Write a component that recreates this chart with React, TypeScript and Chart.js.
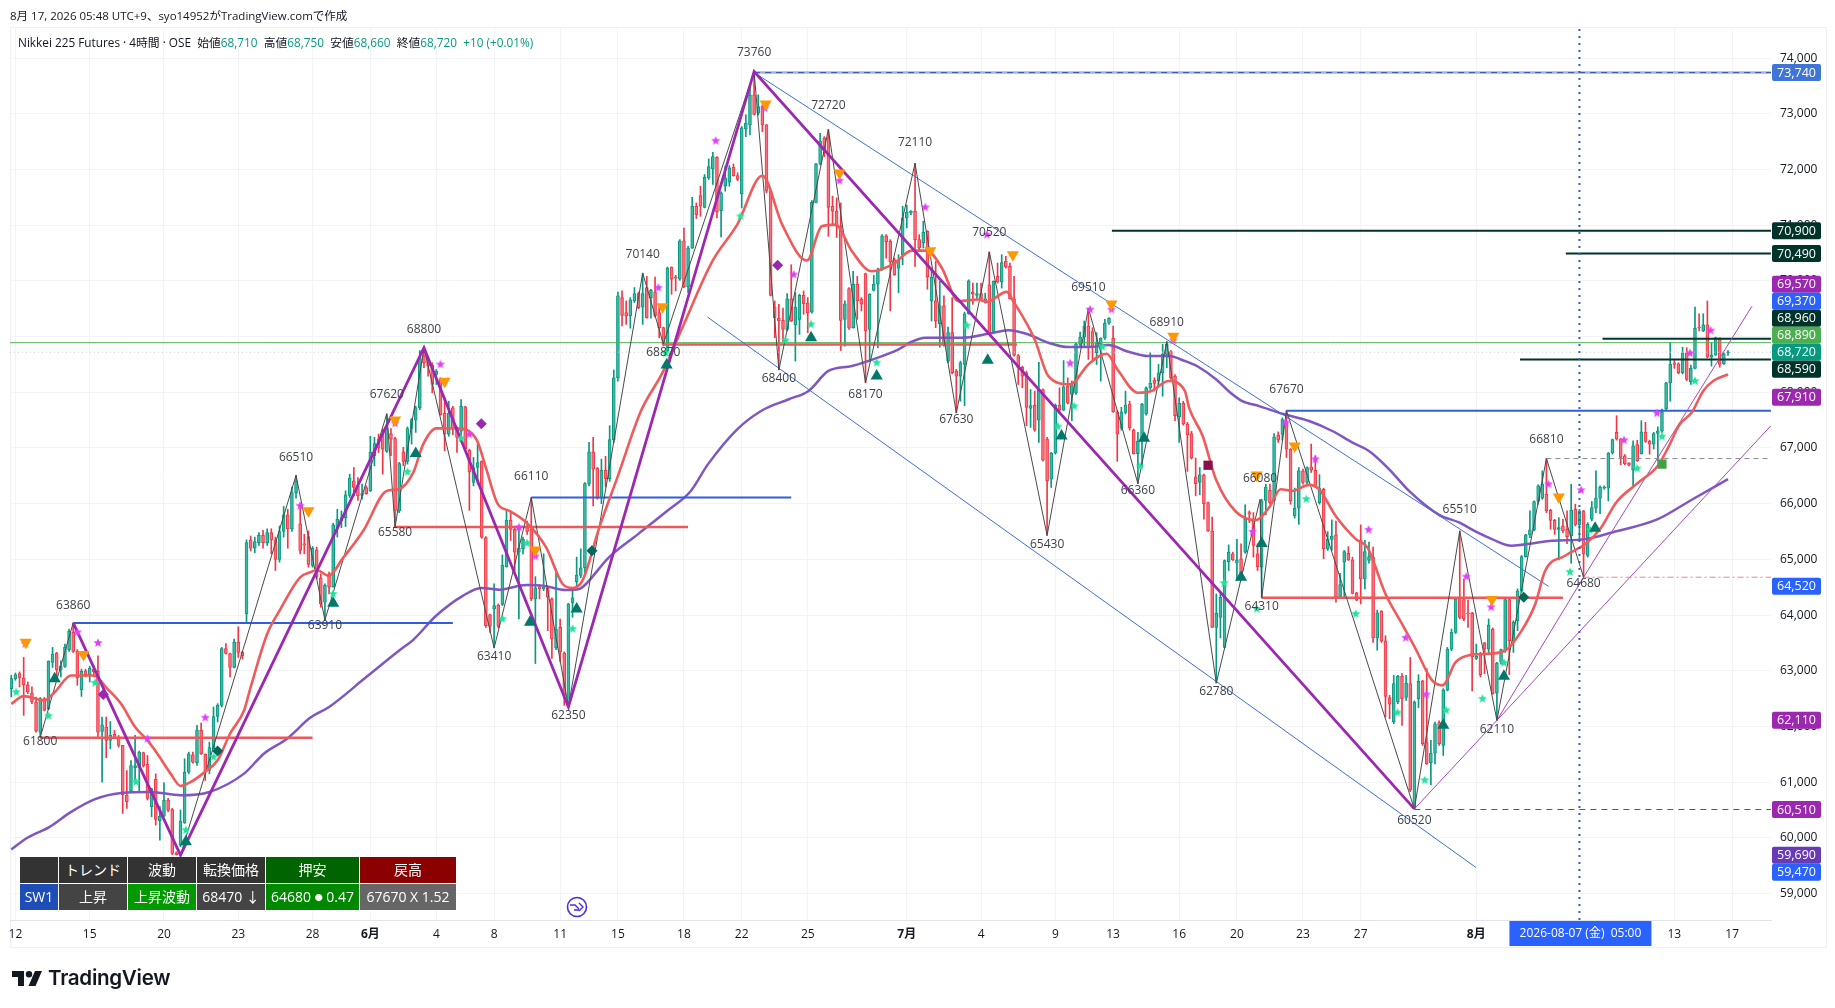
import React, { useEffect, useRef } from "react";
import { Chart, registerables } from "chart.js";

Chart.register(...registerables);

// ---------- candle rows: open, high, low, close (4-hour bars) ----------
const barsMay = [
[62680,62920,62530,62860],[62860,62960,62830,62930],[62950,62980,62710,62870],[62870,63240,62200,62750],[62750,62800,62590,62620],
[62600,62710,62410,62440],[62440,62530,61900,61920],[61900,62520,61800,62500],[62500,62520,62280,62290],[62320,63180,62300,63170],
[63150,63420,63060,63300],[63320,63330,62860,63020],[63020,63180,62890,63090],[63080,63480,63060,63420],[63380,63750,63350,63710],
[63690,63860,63330,63350],[63350,63380,62740,62870],[62660,63030,62540,62990],[63000,63030,62890,62930],[62920,63080,62800,63050],
[63030,63090,62890,62980],[62990,63270,61810,61900],[61910,62170,61000,62030],[61990,62170,61440,61750],[61750,62090,61600,61840],
[61860,61930,61780,61780],[61810,61840,61630,61660],[61660,61660,60440,60770],[60770,61210,60530,60650],[60840,61390,60820,61300],
[61260,61840,61000,61300],[61260,61560,60820,61540],[61530,61540,61270,61290],[61320,61480,60680,60710],[60560,60890,60380,60870],
[61050,61150,60230,60330],[60310,60560,59960,60390],[60390,60990,60380,60680],[60680,60710,60470,60500],[60510,60530,59700,59720],
[59730,59750,59690,59700],[59870,60500,59840,60300],[60270,61420,60260,61180],[61180,61540,61150,61510],[61490,61540,61340,61360],
[61350,62020,61300,61940],[61930,62060,61500,61510],[61500,61510,61030,61200],[61210,61720,61150,61620],[61600,62350,61600,62180],
[62180,62410,62080,62380],[62380,63420,62350,63400],[63400,63490,63300,63310],[63310,63320,62890,63060],[63060,63570,63050,63510],
[63510,63790,63240,63330],[63330,63350,63210,63270],[64020,65350,63850,65300],[65350,65420,65150,65200],[65200,65400,65120,65320],
[65300,65480,65250,65430],[65430,65520,65200,65300],[65300,65550,65250,65480],[65480,65550,65100,65350],[65350,65400,64800,65000],
[65000,65600,64950,65500],[65500,65950,65400,65800],[65800,65900,65200,65550],[65550,66300,65500,66200],[66200,66510,66100,66400],
[65640,65990,65100,65160],[65280,65450,65100,65260],[65410,65510,64860,64910],[64890,65230,64860,65200],[65170,65220,64650,64680],
[64670,64740,64140,64200],[64230,64560,63910,64540],[64740,64770,64380,64500],[64510,65650,64500,65620],[65570,65900,65400,65720],
[65690,65870,65570,65750],[65750,66230,65590,66160],[66150,66530,66110,66460],[66410,66650,66140,66290],[66320,66470,66060,66140],
[66150,66350,66080,66180],[66290,66320,66170,66180],
];
const barsJune = [
[66230,67210,66220,66920],[66860,67190,66680,67080],[67160,67250,66920,67000],[67260,67340,66530,66980],[66940,67600,66920,67350],
[67260,67350,66860,67160],[67170,67190,65590,65880],[65870,66740,65840,66720],[66930,67010,66680,66760],[66760,67380,66710,67350],
[67350,67530,67070,67510],[67500,67750,67280,67720],[67720,68750,67690,68620],[68650,68800,68440,68530],[68590,68620,68290,68470],
[68490,68530,67990,68140],[68320,68410,68140,68380],[68250,68260,67590,67600],[67620,67900,66950,67250],[67250,67840,67210,67620],
[67720,67750,67240,67340],[67350,67380,66920,67190],[67300,67870,67130,67750],[67740,67750,66960,66980],[66960,66980,65880,66570],
[66380,66830,66320,66650],[66650,67070,66350,66740],[66760,66770,65380,65400],[65390,65410,63780,63810],[64010,64020,63690,63800],
[64110,64560,63410,64170],[64180,64200,63770,63800],[64190,65080,64170,64900],[64870,65870,64860,65700],[65700,65870,65340,65540],
[65540,65570,64800,65130],[65130,65570,63930,65200],[65190,65400,65100,65360],[65570,65690,65450,65500],[65540,66110,64260,64290],
[64290,64690,63130,64490],[64510,64550,64290,64470],[64470,65100,64440,64500],[64490,64510,63720,64320],[64290,64310,63220,63570],
[63410,64830,63380,63750],[63780,63930,63160,63340],[63320,63340,62380,62560],[62380,64210,62350,64200],[64220,64440,63960,64310],
[64600,65040,64530,64720],[64710,65190,64670,64850],[64850,66380,64740,66360],[66350,67100,66320,66930],[66930,67190,65960,66620],
[66640,66650,66080,66100],[66100,66800,66000,66600],[66600,66850,66300,66450],[66450,67400,66400,67150],[67150,68400,67100,68260],
[68260,69800,68200,69730],[69700,69820,69190,69380],[69430,69640,69220,69370],[69370,69700,69150,69660],[69640,69880,69610,69770],
[69770,69800,69500,69520],[69530,70140,69220,69770],[69880,70080,69330,69340],[69700,69850,69330,69830],[69800,70070,69350,69370],
[69430,69580,68980,69160],[69160,69170,68830,68860],[68740,70250,68730,70230],[70250,70250,69760,70030],[70070,70100,69820,70050],
[70030,70740,70010,70720],[70720,70950,69880,69890],[69890,70620,69790,70590],[70590,71500,70580,71340],[71340,71400,71120,71190],
[71530,71700,71160,71340],[71320,71910,71310,71860],[71850,72190,71820,72050],[72010,72310,71730,72230],[72220,72230,71130,71240],
[71260,71600,70790,71580],[71700,72060,71610,71850],[71770,72070,71700,72030],[72040,72100,71880,71890],[71890,71940,71800,71820],
[71560,72770,71310,72750],[72730,72980,72590,72830],[72800,73460,72620,73330],[73340,73760,72980,72990],[73010,73340,72980,73130],
[73130,73160,72680,72800],[72800,72810,71580,71610],[71610,71620,69730,69740],[69530,69640,68980,69340],[69330,69580,68400,69280],
[69290,69510,68910,69130],[69130,69770,69100,69680],[69680,70290,69270,69280],[69210,69790,68560,69530],[69310,69760,69040,69740],
[69740,69820,69400,69590],[69600,69700,69070,69430],[69440,71440,69420,71410],[71410,72110,71400,72100],[72110,72650,72080,72510],
[72570,72590,72230,72340],[72570,72720,70800,71320],[71340,71520,71000,71250],[71250,71490,70780,70980],[70980,71400,68750,69290],
[69310,69640,68830,69590],[69860,69880,69130,69150],[69160,70170,69150,69940],[69940,70080,69310,69640],[69670,69700,69460,69580],
[70130,70140,68170,69100],[69130,69770,68560,69760],[69830,70100,69820,69940],[69940,70230,68800,70200],[70200,70830,70190,70810],
[70810,70830,70410,70700],[70710,70740,69460,70340],[70380,70410,70100,70110],[70230,70470,69790,70380],[70470,71340,70290,71130],
];
const barsJuly = [
[71130,71360,70950,71230],[71220,71260,71190,71250],[71250,72110,70260,70740],[70740,70830,70560,70590],[70680,71070,70590,70870],
[70890,70900,69850,70070],[69640,70230,69280,70070],[69640,70350,69160,69280],[69230,69990,68810,69550],[69550,69730,68830,68860],
[68560,69170,68530,69070],[69070,69700,68330,68350],[68380,68410,67630,68290],[68290,68560,67840,68530],[68500,69440,67760,69410],
[69410,70020,69400,70000],[69800,69960,69580,69760],[69740,69960,69670,69770],[69770,69960,69640,69670],[69650,69780,69600,69680],
[69930,70520,69040,69070],[69080,70000,69070,69990],[70080,70320,69960,69980],[69980,70470,69870,70330],[70350,70440,70230,70250],
[70260,70320,69670,69680],[69680,70080,68650,68660],[68660,68680,68140,68440],[68450,68470,68080,68290],[68350,68380,67400,67730],
[67710,68050,67370,67760],[67770,68020,67300,67320],[67500,68540,67100,68050],[68050,68060,66770,66780],[67160,67190,65430,66410],
[66440,66920,66290,66910],[66910,67790,66890,67770],[67770,68080,67640,67680],[67680,68570,67670,68100],[68110,68260,67790,67810],
[67960,68200,67490,68140],[67990,68890,67960,68870],[68860,69080,68830,68990],[68990,69280,68830,69190],[69190,69510,68590,68800],
[69090,69160,68560,68800],[68710,69070,68500,68890],[68870,68980,68200,68970],[68970,69310,68950,69240],[69240,69340,69220,69330],
[68970,69190,67640,67650],[67650,67670,66760,67250],[67360,67730,67320,67650],[67640,68020,67610,67770],[67790,67840,67320,67360],
[67320,67340,66890,66900],[66900,67280,66360,67130],[67130,67800,66650,67790],[67610,68100,67590,68080],[68080,68710,68050,68160],
[68220,68260,68020,68160],[68200,68500,68140,68350],[68350,68860,67930,68680],[68680,68910,68440,68860],[68730,68750,68230,68260],
[68290,68320,67490,67580],[67560,67900,67100,67800],[67800,67840,67410,67430],[67430,67460,66580,67240],[67260,67300,66800,66820],
[66480,66820,66140,66360],[66380,66650,66160,66520],[66520,66530,65720,66000],[66020,66030,65500,65510],[65510,65760,63780,63780],
[63780,64380,62780,64030],[63960,64410,63590,64320],[63420,64990,63410,64980],[64960,65260,64800,65130],[65100,65130,64980,64990],
[64930,65360,64620,64990],[65010,65280,64620,64740],[65130,65980,65110,65720],[65840,65870,65660,65810],[65690,65840,65040,65250],
[65100,65280,64800,64870],[64860,66080,64310,66050],[66060,66350,65800,66300],[66240,66350,65990,66020],[66060,67260,66050,67200],
[67230,67290,67100,67140],[67250,67540,67140,67510],[67470,67670,66830,66980],[66980,66990,65990,66050],[65780,66280,65740,65920],
[65920,66650,65630,66590],[66590,66620,66350,66380],[66380,66660,66360,66650],[66660,67070,66560,66600],[66600,66860,66290,66320],
[66020,66520,65990,66280],[66260,66280,65010,65190],[65190,65500,65160,65360],[65360,65710,65160,65420],[65440,65690,64230,64320],
[64320,64750,64310,64550],[64950,65160,64320,65140],[65110,65230,64980,64990],[64990,65040,64380,64390],[64400,64410,64260,64270],
[65350,65620,64200,64650],[64650,65340,64470,65140],[64980,65310,64930,65050],[65040,65220,63510,63590],[63590,64090,63370,64040],
[64070,64080,63510,63530],[63540,63630,62170,62540],[62520,62560,62140,62400],[62080,62920,62050,62770],[62440,62920,62410,62900],
[62900,62950,62020,62500],[62520,62920,62470,62780],[62770,63240,60830,60860],[60530,62460,60520,62440],[62500,62930,62340,62810],
[62820,62830,61660,61690],[61710,63040,61320,61330],[61350,61750,60950,61520],[61520,62080,61330,62050],[62070,62100,61660,61690],
[61660,62680,61480,62660],[62650,63420,62640,63390],[63390,63750,63360,63690],[63690,64320,63670,64290],[64300,65510,63930,63960],
[64280,64650,63900,63930],[64040,64270,63780,64020],[64030,64050,62640,63250],
];
const barsAugust = [
[63220,63480,63200,63260],[63290,63330,62890,62930],[63500,63510,62950,63390],[63390,63930,63300,63820],[63750,63770,62580,62590],
[62600,63150,62110,63140],[63150,63390,63120,63380],[63360,64290,63330,64280],[64280,64290,62930,63540],[63540,63900,63330,63870],
[63900,64470,63720,64430],[64430,65070,64410,65050],[65050,65450,65040,65440],[65440,65870,65390,65530],[65530,66050,65510,66040],
[66040,66340,65990,66320],[66100,66590,66080,66350],[66170,66810,65840,65870],[65880,65900,65540,65700],[65700,65720,65450,65540],
[65540,65750,64990,65570],[65600,65720,65480,65510],[65540,65870,65280,65410],[65420,66350,64930,65880],[65900,65990,65600,65630],
[65620,65900,65360,65870],[65870,65880,64680,65100],[65070,65660,65040,65630],[65720,66040,65690,65930],[65920,66590,65840,66100],
[66100,66320,65820,66300],[66280,66320,66260,66300],[66280,66920,66050,66910],[66910,67160,66890,67150],[67280,67580,67140,67160],
[67160,67170,66700,66830],[66860,66880,66700,66720],[66730,66740,66680,66690],[66600,67130,66300,67040],[67060,67140,66760,66770],
[66900,67490,66890,67290],[67280,67460,67100,67120],[67120,67140,66890,67070],[67070,67280,66980,67260],[67260,67380,66770,67310],
[67300,67700,67280,67650],[67700,68180,67680,68170],[68170,68890,67840,68500],[68530,68570,68430,68500],[68510,68530,68330,68350],
[68350,68810,68330,68710],[68710,68800,68210,68230],[68190,68490,68140,68430],[68430,69530,68420,69150],[69170,69410,69100,69160],
[69100,69410,69090,69210],[69210,69640,68620,68630],[68630,68890,68470,68670],[68670,68990,68660,68980],[68970,68980,68450,68500],
[68510,68710,68500,68690],[68710,68750,68660,68720],
];

// ---------- moving averages: bar number, price ----------
const fastAverage = [[0,62407],[3,62545],[8,62467],[10.5,62616],[14.5,62915],[20,62915],[23.3,62676],[26.6,62407],[30,61990],[33,61751],[35.4,61512],[38.6,61154],[41,60933],[43.5,61004],[46.7,61172],[50,61393],[53,61870],[56.4,62288],[58,62706],[62,63661],[65,64079],[70,64678],[72.4,64768],[74,64810],[76.8,64708],[80.5,65036],[85.3,65514],[91,66230],[93.8,66260],[97.4,66559],[99.8,67066],[103,67353],[107.8,67353],[112.7,67156],[115,66648],[117.9,65992],[120.7,65872],[124.8,65663],[129.6,65216],[133.6,64559],[136,64487],[138.4,64618],[142.5,65574],[147,66500],[152.6,67667],[157.8,68353],[162.6,69159],[169.9,70353],[175.9,71010],[182,71887],[186.8,71010],[192.8,70365],[196.4,70980],[199.7,71010],[203.7,70532],[208.5,70174],[213.8,70305],[218.2,70543],[221.9,70543],[225.5,70232],[229.5,69635],[234.4,69665],[236.4,69623],[241.2,69802],[242.8,69635],[248,68949],[251.3,68292],[256.6,68143],[261,68501],[265.4,68692],[268.3,68381],[273,67993],[276.3,68023],[280.4,68202],[284.4,68023],[285.4,67723],[288.7,67215],[291.9,66439],[296.7,65860],[301.6,65705],[304.8,65932],[307.6,66260],[310.4,66230],[314.5,66338],[316.9,66260],[320.9,65782],[325.8,65364],[328.6,65215],[333,64379],[337,63842],[340.3,63394],[344.3,62827],[346.8,62738],[350,63155],[353.5,63285],[357.6,63305],[362,63364],[366,63722],[369.3,64200],[371.7,64797],[376.5,65066],[381.4,65275],[385,65545],[389,66030],[393.8,66351],[399,66680],[401.5,67008],[404.3,67426],[407.2,67635],[410,68023],[412.4,68202],[416,68320]];
const slowAverage = [[0,59793],[4,60008],[9.3,60198],[14.5,60467],[20,60688],[26.6,60807],[33.8,60825],[41,60766],[48,60825],[56.4,61154],[61.2,61512],[66.8,61781],[72.5,62160],[77,62350],[86,62887],[94,63365],[97.4,63556],[103,63992],[109.5,64350],[113.9,64487],[118.3,64457],[124.8,64541],[128.8,64529],[134.4,64451],[137.6,64469],[139,64540],[144.7,65029],[151.8,65449],[158.9,65868],[164.6,66224],[168.8,66706],[175.9,67335],[182,67678],[188.4,67875],[193.2,68025],[198,68383],[203.7,68472],[210,68622],[215,68770],[218.2,68907],[221.5,68978],[230.3,68978],[236.8,69050],[241.6,69116],[246.5,69038],[251.3,68889],[256.2,68811],[261,68811],[265.8,68847],[270.7,68728],[275.5,68650],[280.4,68650],[284.4,68561],[287.6,68459],[292,68230],[295,68020],[298.3,67842],[302.4,67752],[308,67615],[314.5,67484],[320.1,67305],[325,67096],[329,66946],[333.9,66618],[338.7,66230],[346,65800],[350.8,65663],[354.8,65502],[358.8,65364],[363.6,65245],[368.5,65287],[373.3,65334],[381.4,65364],[387.9,65484],[399,65722],[406.8,66053],[416,66441]];

// ---------- swing pivots ----------
const pivotBars = [7,15,41,69,76,91,93,100,117,126,135,153,158,180,186,198,207,219,229,237,251,261,273,280,292,302.6,303,309,340,351,360,372,381];
const pivotPrices = [61800,63860,59690,66510,63910,67620,65580,68800,63410,66110,62350,70140,68870,73760,68400,72720,68170,72110,67630,70520,65430,69510,66360,68910,62780,66080,64310,67670,60520,65510,62110,66810,64680];
const majorPivotBars = [15,41,100,135,180,340];
const majorPivotPrices = [63860,59690,68800,62350,73760,60520];
const hiddenPivotLabels = [59690];

// ---------- trend lines and levels: bar from, price from, bar to, price to ----------
const channelTop = [[180,73740],[372.5,64516]];
const channelBottom = [[168.7,69350],[354.9,59470]];
const trendSteep = [[360,62110],[381,64680],[421.8,69545]];
const trendShallow = [[340,60520],[360,62110],[426.4,67400]];
const blueLevels = [[63860,15,107],[66110,126,189],[67670,309,426.4]];
const redLevels = [[61800,7,73],[65580,93,164],[68860,158,243.7],[64310,303,376]];
const darkLevels = [[70900,266.7,426.4],[70490,376.7,426.4],[68960,385.6,426.4],[68590,365.6,426.4]];

// ---------- signal marks: bar number, price ----------
const sellTriangles = [[3.5,63512],[17.5,63291],[72,65872],[93,67502],[105,68200],[127,65168],[157.8,69535],[182.8,73177],[200.7,71935],[222.7,70543],[242.7,70471],[266.6,69587],[281.6,69008],[301.8,66517],[311,67036],[358.8,64278],[375,66122]];
const buyTriangles = [[10.5,62855],[42.3,59930],[78,64213],[98,66899],[125.7,63872],[137,64111],[158.8,68490],[193.8,68980],[209.7,68293],[236.6,68573],[254.5,67217],[274.5,67175],[298,64678],[303,65287],[347,62021],[361.7,62904],[383.8,65561]];
const greenStars = [[1.2,62616],[9,62190],[20.3,62783],[30.2,61004],[42.3,60139],[49,61452],[78,64380],[96,66571],[109,67174],[119,63932],[125,65293],[136,63753],[158.6,68700],[176.7,71159],[187.6,68932],[193.8,69219],[209.7,68532],[231.5,69199],[253.6,67384],[257.6,67749],[264.4,68817],[273.5,66668],[293.9,64576],[301.8,64111],[313.8,66081],[325.8,64021],[335.9,62248],[342.5,61036],[347.7,62290],[356.5,62498],[361.7,63143],[377.7,64773],[382.6,65525],[394,66632],[400,67205],[408,68202]];
const magentaStars = [[3.4,63482],[16,63691],[21,63500],[33,61780],[47,62157],[70,65962],[93,67443],[104,68499],[111,67245],[123,65574],[127,65054],[156.8,69876],[170.7,72514],[182.6,73099],[189.6,70114],[200.7,71798],[221.5,71320],[236.4,70829],[256.6,68519],[261.4,69486],[266.6,69486],[281.6,68931],[300.8,65496],[308.8,67454],[316,66797],[328.9,65532],[337.9,63591],[342.9,62576],[352.6,64690],[358.6,64140],[372.5,66349],[380.4,66242],[390.8,67139],[398.8,67623],[406.8,68703],[411.8,69109]];
const purpleDiamonds = [[22.3,62575],[113.9,67436],[185.7,70281]];
const tealDiamonds = [[50,61560],[140.7,65156],[366.5,64319]];
const crimsonSquares = [[290,66690]];
const greenSquares = [[400,66710]];

// ---------- axes ----------
const priceTicks = [59000,60000,61000,62000,63000,64000,65000,66000,67000,68000,69000,70000,71000,72000,73000,74000];
const timeTickBars = [1,19,37,55,73,87,103,117,133,147,163,177,193,217,235,253,267,283,297,313,327,355,403,417];
const timeTickLabels = ["12","15","20","23","28","6月","4","8","11","15","18","22","25","7月","4","9","13","16","20","23","27","8月","13","17"];
const crosshairBar = 380;
const crosshairLabel = "2026-08-07 (金)  05:00";

// ---------- price tags on the axis ----------
const tagPrices = [73740,70900,70490,69570,69370,68960,68890,68720,68590,67910,64520,62110,60510,59690,59470];
const tagColors = ["#3f74d8","#00332a","#00332a","#9c27b0","#2962ff","#00332a","#4caf50","#089981","#00332a","#9c27b0","#2962ff","#9c27b0","#9c27b0","#673ab7","#2962ff"];
const lastPrice = 68720;

// ---------- info table ----------
const tableHeader = ["", "トレンド", "波動", "転換価格", "押安", "戻高"];
const tableValues = ["SW1", "上昇", "上昇波動", "68470 ↓", "64680 ● 0.47", "67670 X 1.52"];
const headerColors = ["#333333","#333333","#333333","#333333","#006400","#8b0000"];
const valueColors = ["#1e4db7","#444444","#009900","#444444","#008800","#666666"];
const columnWidths = [38,68,68,68,93,96];

const FONT = '"Open Sans","Noto Sans CJK JP",sans-serif';
const allBars = [...barsMay, ...barsJune, ...barsJuly, ...barsAugust];
const TEAL = "#089981";
const RED = "#f23645";
const TEAL_FILL = "#3fb8a2";
const RED_FILL = "#f7717d";
const LABEL_NUDGE: Record<number, number> = { 61800: -5, 63910: -4, 65580: -4, 68800: 3, 63860: 4, 72720: -3, 60520: 3, 64680: -3, 66510: 3, 67620: 2, 68170: 3, 73760: 2, 70520: 2, 70140: 2, 68910: 2, 66810: 2, 67630: -2, 66360: -2 };

function pts(list: number[][]) {
  return list.map(([x, y]) => ({ x, y }));
}
function lineSet(data: { x: number; y: number }[], color: string, width: number, extra: object = {}) {
  return { type: "line", data, borderColor: color, borderWidth: width, pointRadius: 0, tension: 0, fill: false, order: 5, ...extra };
}
function level(list: number[][], color: string, width: number) {
  return list.map(([p, a, b]) => lineSet([{ x: a, y: p }, { x: b, y: p }], color, width));
}
function marks(list: number[][], style: any, color: string, radius: number, rotation = 0) {
  return { type: "line", showLine: false, data: pts(list), pointStyle: style, pointRadius: radius, pointRotation: rotation, pointBackgroundColor: color, pointBorderColor: color, pointBorderWidth: 0, order: 1 };
}
function makeStar(color: string) {
  const c = document.createElement("canvas");
  c.width = 10;
  c.height = 10;
  const g = c.getContext("2d")!;
  g.fillStyle = color;
  g.beginPath();
  for (let k = 0; k < 10; k++) {
    const r = k % 2 === 0 ? 4.8 : 2.1;
    const a = -Math.PI / 2 + (k * Math.PI) / 5;
    g.lineTo(5 + r * Math.cos(a), 5 + r * Math.sin(a));
  }
  g.closePath();
  g.fill();
  return c;
}

const overlayPlugin = {
  id: "overlay",
  beforeDraw(chart: any) {
    const g = chart.ctx;
    g.save();
    g.fillStyle = "#ffffff";
    g.fillRect(0, 0, chart.width, chart.height);
    g.strokeStyle = "#eef0f5";
    g.lineWidth = 1;
    g.strokeRect(10.5, 27.5, 1816, 920);
    g.restore();
  },
  afterDatasetsDraw(chart: any) {
    const g = chart.ctx;
    const xs = chart.scales.x;
    const ys = chart.scales.y;
    g.save();
    g.font = `12px ${FONT}`;
    g.fillStyle = "#3c3f48";
    g.textAlign = "center";
    g.textBaseline = "middle";
    pivotBars.forEach((b, k) => {
      if (hiddenPivotLabels.includes(pivotPrices[k])) return;
      const prev = pivotPrices[k - 1] ?? pivotPrices[k + 1];
      const isHigh = pivotPrices[k] > prev;
      const nudge = LABEL_NUDGE[pivotPrices[k]] ?? 0;
      g.fillText(String(pivotPrices[k]), xs.getPixelForValue(b), ys.getPixelForValue(pivotPrices[k]) + (isHigh ? -21 : 9) + nudge);
    });
    g.restore();
  },
  afterDraw(chart: any) {
    const g = chart.ctx;
    const xs = chart.scales.x;
    const ys = chart.scales.y;
    const { right, bottom } = chart.chartArea;
    g.save();
    // crosshair time box
    const cx = xs.getPixelForValue(crosshairBar);
    g.fillStyle = "#2962ff";
    g.fillRect(cx - 70, bottom + 1, 142, 25);
    g.fillStyle = "#ffffff";
    g.font = `12px ${FONT}`;
    g.textAlign = "center";
    g.textBaseline = "middle";
    g.fillText(crosshairLabel, cx + 1, bottom + 14);
    // price tags, pushed apart around the last price
    const H = 17;
    const anchor = tagPrices.indexOf(lastPrice);
    const ty = tagPrices.map((p) => ys.getPixelForValue(p));
    for (let k = anchor - 1; k >= 0; k--) ty[k] = Math.min(ty[k], ty[k + 1] - H);
    for (let k = anchor + 1; k < ty.length; k++) ty[k] = Math.max(ty[k], ty[k - 1] + H);
    g.font = `12.5px ${FONT}`;
    tagPrices.forEach((p, k) => {
      g.fillStyle = tagColors[k];
      g.beginPath();
      g.roundRect(right + 1, ty[k] - H / 2, 49, H, 2);
      g.fill();
      g.fillStyle = "#ffffff";
      g.fillText(p.toLocaleString("en-US"), right + 25.5, ty[k] + 0.5);
    });
    g.restore();
  },
};

export default function App() {
  const ref = useRef<HTMLCanvasElement>(null);
  useEffect(() => {
    const sp = (1728 - 11.3) / (allBars.length - 1);
    const xMin = -(11.3 - 10) / sp;
    const xMax = (1771 - 11.3) / sp;
    const greenStar = makeStar("#22e39a");
    const magentaStar = makeStar("#e040fb");
    const chart = new Chart(ref.current!, {
      type: "bar",
      plugins: [overlayPlugin],
      data: {
        datasets: [
          {
            data: allBars.map((b, i) => ({ x: i, y: [b[2], b[1]] })),
            backgroundColor: allBars.map((b) => (b[3] >= b[0] ? TEAL : RED)),
            barThickness: 1,
            grouped: false,
            order: 12,
          },
          {
            data: allBars.map((b, i) => ({ x: i, y: [b[0], b[3]] })),
            backgroundColor: allBars.map((b) => (b[3] >= b[0] ? TEAL_FILL : RED_FILL)),
            borderColor: allBars.map((b) => (b[3] >= b[0] ? TEAL : RED)),
            borderWidth: 1,
            borderSkipped: false,
            barThickness: 3,
            grouped: false,
            order: 11,
          },
          lineSet([{ x: xMin, y: 68890 }, { x: xMax, y: 68890 }], "#4caf50", 1, { order: 10 }),
          lineSet([{ x: xMin, y: lastPrice }, { x: xMax, y: lastPrice }], "#c4c8d0", 1, { borderDash: [1, 3], order: 10 }),
          lineSet([{ x: 180, y: 73740 }, { x: xMax, y: 73740 }], "#9db4e8", 2.5, { order: 9 }),
          lineSet([{ x: 180, y: 73740 }, { x: xMax, y: 73740 }], "#2e57b8", 1, { borderDash: [6, 5], order: 8 }),
          lineSet([{ x: 372, y: 66810 }, { x: xMax, y: 66810 }], "#8a8a8a", 1, { borderDash: [5, 4] }),
          lineSet([{ x: 381, y: 64680 }, { x: xMax, y: 64680 }], "#e08a8a", 1, { borderDash: [6, 3, 2, 3] }),
          lineSet([{ x: 340, y: 60510 }, { x: xMax, y: 60510 }], "#5f4b8b", 1, { borderDash: [6, 5] }),
          lineSet(pts(channelTop), "#3f6fd8", 1),
          lineSet(pts(channelBottom), "#3f6fd8", 1),
          lineSet(pts(trendSteep), "#a24bb8", 1),
          lineSet(pts(trendShallow), "#a24bb8", 1),
          ...level(blueLevels, "#2e5fe0", 2),
          ...level(redLevels, "#f0575a", 2.5),
          ...level(darkLevels, "#00332a", 2),
          lineSet(pts(slowAverage), "#7e57c2", 2.5, { cubicInterpolationMode: "monotone" }),
          lineSet(pivotBars.map((b, k) => ({ x: b, y: pivotPrices[k] })), "#4a4a4a", 1, { order: 4 }),
          lineSet(majorPivotBars.map((b, k) => ({ x: b, y: majorPivotPrices[k] })), "#9c27b0", 2.8, { order: 3 }),
          lineSet(pts(fastAverage), "#ef5b5b", 2.6, { cubicInterpolationMode: "monotone", order: 3 }),
          lineSet([{ x: crosshairBar, y: 58526 }, { x: crosshairBar, y: 74558 }], "#2e5fc8", 2, { borderDash: [2, 5], order: 2 }),
          marks(sellTriangles, "triangle", "#ff9800", 7, 180),
          marks(buyTriangles, "triangle", "#00796b", 7),
          marks(greenStars, greenStar, "#22e39a", 5),
          marks(magentaStars, magentaStar, "#e040fb", 5),
          marks(purpleDiamonds, "rectRot", "#9c27b0", 5.5),
          marks(tealDiamonds, "rectRot", "#00695c", 5.5),
          marks(crimsonSquares, "rect", "#880e4f", 6.5),
          marks(greenSquares, "rect", "#43a047", 6.5),
        ] as any,
      },
      options: {
        responsive: false,
        animation: false,
        maintainAspectRatio: false,
        layout: { padding: { left: 10, top: 27, right: 9, bottom: 60 } },
        plugins: { legend: { display: false }, tooltip: { enabled: false } },
        scales: {
          x: {
            type: "linear",
            offset: false,
            min: xMin,
            max: xMax,
            afterBuildTicks: (s: any) => {
              s.ticks = timeTickBars.map((v) => ({ value: v }));
            },
            afterFit: (s: any) => {
              s.height = 28;
            },
            grid: { color: "#f3f4f8", drawTicks: false, offset: false },
            border: { color: "#e0e3eb" },
            ticks: {
              autoSkip: false,
              maxRotation: 0,
              padding: 7,
              color: "#131722",
              font: (c: any) => {
                const label = timeTickLabels[timeTickBars.indexOf(c.tick?.value)] || "";
                return { family: FONT, size: 12, weight: label.includes("月") ? "bold" : "normal" };
              },
              callback: (v: any) => timeTickLabels[timeTickBars.indexOf(v)] ?? "",
            },
          },
          y: {
            type: "linear",
            position: "right",
            min: 58526,
            max: 74558,
            afterBuildTicks: (s: any) => {
              s.ticks = priceTicks.map((v) => ({ value: v }));
            },
            afterFit: (s: any) => {
              s.width = 55;
            },
            grid: { color: "#f3f4f8", drawTicks: false },
            border: { display: false },
            ticks: {
              autoSkip: false,
              padding: 9,
              color: "#131722",
              font: { family: FONT, size: 12 },
              callback: (v: any) => Number(v).toLocaleString("en-US"),
            },
          },
        },
      },
    } as any);
    return () => chart.destroy();
  }, []);

  const cell = (w: number, bg: string, t: string, k: number) => {
    const parts = t.split("●");
    return (
      <div key={k} style={{ width: w, height: 26, background: bg, color: "#fff", marginRight: 1, fontSize: 14, lineHeight: "26px", textAlign: "center", whiteSpace: "nowrap", overflow: "hidden" }}>
        {parts.length > 1 ? (
          <>
            {parts[0]}
            <span style={{ fontSize: 8, verticalAlign: "1px" }}>●</span>
            {parts[1]}
          </>
        ) : (
          t
        )}
      </div>
    );
  };

  return (
    <div style={{ position: "absolute", left: 0, top: 0, width: 1835, height: 1008, overflow: "hidden", background: "#fff", fontFamily: FONT }}>
      <canvas ref={ref} width={1835} height={1008} style={{ position: "absolute", left: 0, top: 0, display: "block" }} />
      <div style={{ position: "absolute", left: 10, top: 7, fontSize: 11.5, color: "#131722", whiteSpace: "nowrap" }}>
        8月 17, 2026 05:48 UTC+9、syo14952がTradingView.comで作成
      </div>
      <div style={{ position: "absolute", left: 18, top: 33, fontSize: 11.8, color: "#131722", whiteSpace: "nowrap" }}>
        Nikkei 225 Futures · 4時間 · OSE&nbsp;&nbsp;始値<span style={{ color: TEAL }}>68,710</span>&nbsp;&nbsp;高値<span style={{ color: TEAL }}>68,750</span>&nbsp;&nbsp;安値<span style={{ color: TEAL }}>68,660</span>&nbsp;&nbsp;終値<span style={{ color: TEAL }}>68,720</span>&nbsp;&nbsp;<span style={{ color: TEAL }}>+10 (+0.01%)</span>
      </div>
      <div style={{ position: "absolute", left: 20, top: 857 }}>
        <div style={{ display: "flex", marginBottom: 1 }}>{tableHeader.map((t, k) => cell(columnWidths[k], headerColors[k], t, k))}</div>
        <div style={{ display: "flex" }}>{tableValues.map((t, k) => cell(columnWidths[k], valueColors[k], t, k))}</div>
      </div>
      <svg style={{ position: "absolute", left: 566, top: 896 }} width="22" height="22" viewBox="0 0 22 22">
        <circle cx="11" cy="11" r="9.5" fill="#fff" stroke="#4b2be0" strokeWidth="1.6" />
        <path d="M4 9 L9 9 L13 13 M8 14 L13 14 M13 7 L17 11 L13 15" fill="none" stroke="#4b2be0" strokeWidth="1.4" />
      </svg>
      <svg style={{ position: "absolute", left: 12, top: 971 }} width="30" height="16" viewBox="0 0 30 16">
        <path d="M0 0 H12 V15 H6 V6 H0 Z" fill="#131722" />
        <circle cx="17" cy="3.2" r="3.2" fill="#131722" />
        <path d="M23 0 H30 L23.5 15 H16.5 Z" fill="#131722" />
      </svg>
      <div style={{ position: "absolute", left: 48, top: 965, fontFamily: 'Inter,"Open Sans",sans-serif', fontSize: 20.6, fontWeight: 600, letterSpacing: -0.3, color: "#131722", whiteSpace: "nowrap" }}>
        TradingView
      </div>
    </div>
  );
}
